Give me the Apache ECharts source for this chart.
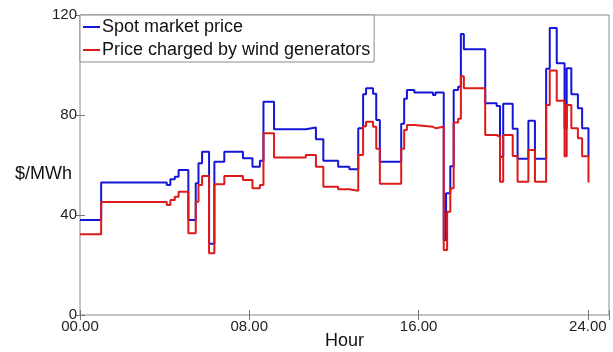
<!DOCTYPE html>
<html>
<head>
<meta charset="utf-8">
<script src="https://cdn.jsdelivr.net/npm/echarts@6/dist/echarts.min.js"></script>
<style>
  html, body { margin: 0; padding: 0; background: #fff; }
  #chart { width: 613px; height: 352px; }
</style>
</head>
<body>
<div id="chart"></div>
<script>
// Hour at which each price level starts, and the price ($/MWh) held from then on
const spotHours = [0, 1.0, 4.1, 4.27, 4.48, 4.66, 5.12, 5.47, 5.6, 5.77, 6.1, 6.35, 6.82, 7.7, 8.15, 8.5, 8.67, 9.17, 10.67, 11.15, 11.5, 12.2, 12.73, 13.15, 13.38, 13.52, 13.85, 14.0, 14.17, 15.18, 15.32, 15.45, 15.8, 16.68, 16.8, 17.19, 17.3, 17.5, 17.66, 17.87, 18.0, 18.14, 19.15, 19.69, 19.85, 20.0, 20.45, 20.68, 21.19, 21.5, 22.03, 22.2, 22.53, 22.9, 23.0, 23.22, 23.53, 23.73, 24.03];
const spotPrice = [38, 53, 52, 54.3, 55.3, 58, 38, 52.7, 60.7, 65.3, 28.5, 61.3, 65.3, 62.7, 59.3, 61.7, 85.3, 74.3, 75, 70.3, 61.7, 59.3, 58.3, 74.7, 88.3, 90.7, 88.5, 78, 61.3, 76.5, 86.5, 90, 89, 88, 89, 30, 48.7, 59.5, 90, 91.3, 112.4, 106.3, 84.7, 83.6, 63.3, 84.5, 74.5, 62.5, 77.7, 62.5, 98.5, 114.8, 100.7, 74.7, 98.7, 88.3, 82.7, 74.7, 63.3];

const windHours = [0, 1.0, 4.1, 4.27, 4.48, 4.66, 5.12, 5.47, 5.6, 5.77, 6.1, 6.35, 6.82, 7.7, 8.15, 8.5, 8.67, 9.17, 10.67, 11.15, 11.5, 12.2, 12.73, 13.15, 13.38, 13.52, 13.85, 14.0, 14.17, 15.18, 15.32, 15.45, 15.8, 16.68, 16.8, 17.19, 17.35, 17.5, 17.66, 17.87, 18.0, 18.14, 19.15, 19.69, 19.85, 20.0, 20.45, 20.68, 21.19, 21.5, 22.03, 22.2, 22.53, 22.9, 23.0, 23.22, 23.53, 23.73, 24.03];
const windPrice = [32.3, 45.2, 44, 46, 47.3, 49.3, 32.7, 45.3, 52, 55.6, 24.7, 52.3, 55.6, 54, 50.7, 52, 72.7, 63, 64, 59.3, 51.3, 50.3, 49.7, 64, 75.5, 77.3, 75.3, 66.5, 52.5, 66.5, 74, 76, 75.3, 74.7, 75.3, 26, 41.3, 50.7, 77, 78.5, 95.5, 90.7, 72, 71.3, 53.3, 72, 63.6, 53.3, 66, 53.3, 84, 97.8, 85.7, 63.5, 84, 74.7, 70.7, 63.5, 53];

const seriesNames = ['Spot market price', 'Price charged by wind generators'];
const hourTicks = [0, 8, 16, 24];
const priceTicks = [0, 40, 80, 120];

const pairs = (xs, ys) => xs.map((x, i) => [x, ys[i]]);
const hourLabel = v => (hourTicks.includes(v) ? String(v).padStart(2, '0') + '.00' : '');
const priceLabel = v => (priceTicks.includes(v) ? String(v) : '');

const FONT = 'Liberation Sans, Arial, sans-serif';
const chart = echarts.init(document.getElementById('chart'), null, { renderer: 'canvas' });

const tickStyle = { show: true, inside: true, length: 5, lineStyle: { color: '#777', width: 1 } };

chart.setOption({
  animation: false,
  backgroundColor: '#fff',
  grid: {
    left: 80, right: 4, top: 15, bottom: 37,
    outerBoundsMode: 'none', containLabel: false,
    show: true, borderColor: '#8a8a8a', borderWidth: 1, backgroundColor: 'transparent'
  },
  legend: {
    orient: 'vertical',
    left: 80, top: 15,
    padding: [3, 4, 3, 3],
    itemGap: 5,
    itemWidth: 17, itemHeight: 2,
    icon: 'rect',
    backgroundColor: '#fff',
    borderColor: '#8a8a8a', borderWidth: 1, borderRadius: 0,
    textStyle: { fontFamily: FONT, fontSize: 18, color: '#111', padding: [0, 0, 0, -3] },
    data: seriesNames
  },
  graphic: [{
    // y-axis title, set horizontally to the left of the value labels
    type: 'text', left: 15, top: 165,
    style: { text: '$/MWh', fontFamily: FONT, fontSize: 18, fill: '#111' }
  }],
  xAxis: [{
    type: 'value', min: 0, max: 25, interval: 8,
    name: 'Hour', nameLocation: 'middle', nameGap: 26, nameMoveOverlap: false,
    nameTextStyle: { fontFamily: FONT, fontSize: 18, color: '#111', verticalAlign: 'middle' },
    axisLine: { show: false },
    axisTick: tickStyle,
    axisLabel: { formatter: hourLabel, fontFamily: FONT, fontSize: 15, color: '#222', margin: 4 },
    splitLine: { show: false }
  }, {
    type: 'value', position: 'top', min: 0, max: 25, interval: 8,
    axisLine: { show: false }, axisTick: tickStyle, axisLabel: { show: false }, splitLine: { show: false }
  }],
  yAxis: [{
    type: 'value', min: 0, max: 120, interval: 40,
    axisLine: { show: false },
    axisTick: tickStyle,
    axisLabel: { formatter: priceLabel, fontFamily: FONT, fontSize: 15, color: '#222', margin: 3 },
    splitLine: { show: false }
  }, {
    type: 'value', position: 'right', min: 0, max: 120, interval: 40,
    axisLine: { show: false }, axisTick: tickStyle, axisLabel: { show: false }, splitLine: { show: false }
  }],
  series: [{
    name: seriesNames[0],
    type: 'line', step: 'end', showSymbol: false, symbol: 'none',
    color: '#1515d8',
    lineStyle: { width: 2, color: '#1515d8' },
    data: pairs(spotHours, spotPrice)
  }, {
    name: seriesNames[1],
    type: 'line', step: 'end', showSymbol: false, symbol: 'none',
    color: '#dd1a1a',
    lineStyle: { width: 2, color: '#dd1a1a' },
    data: pairs(windHours, windPrice)
  }]
});
</script>
</body>
</html>
